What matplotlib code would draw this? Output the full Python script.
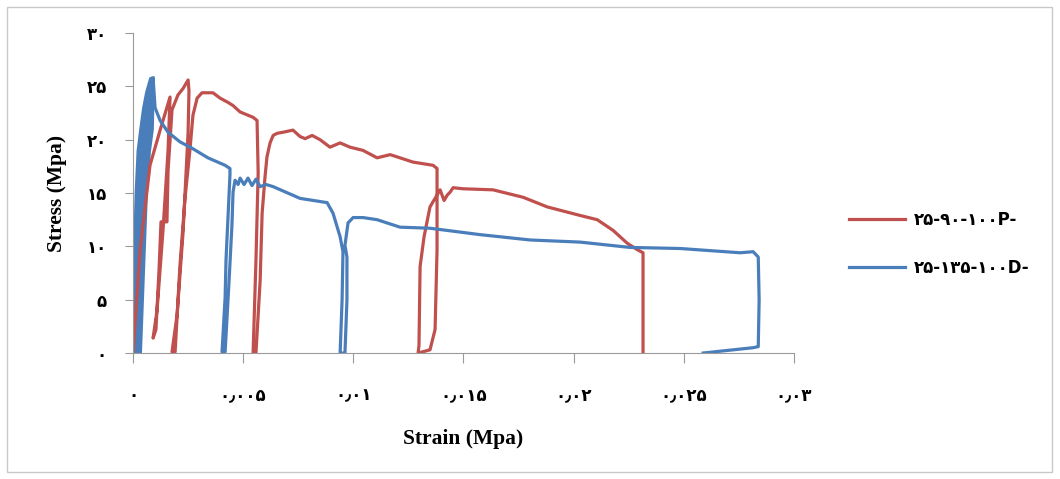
import matplotlib
matplotlib.use('Agg')
import matplotlib.pyplot as plt
from matplotlib.patches import Rectangle

# series 25-90-100P- (red): strain, stress
red_strain = [0, 0.00032, 0.00077, 0.00123, 0.00168, 0.00159, 0.00136, 0.00109, 0.00091,
              0.00104, 0.00118, 0.00127, 0.00154, 0.00159, 0.00177, 0.00204, 0.00227, 0.0025,
              0.00254, 0.0025, 0.00227, 0.002, 0.00177, 0.00191, 0.00213, 0.00236, 0.00259,
              0.00272, 0.00291, 0.00313, 0.00363, 0.00395, 0.00431, 0.00454, 0.00486, 0.00545,
              0.00563, 0.00568, 0.00558, 0.00545, 0.00558, 0.00577, 0.00586, 0.00599, 0.00608,
              0.00622, 0.00636, 0.00654, 0.00681, 0.00726, 0.00758, 0.00781, 0.00813, 0.00849,
              0.00894, 0.0094, 0.00985, 0.01044, 0.01108, 0.01167, 0.01212, 0.01271, 0.01362,
              0.0138, 0.0138, 0.01371, 0.01348, 0.01294, 0.01298, 0.01303, 0.01321, 0.01348,
              0.01371, 0.01394, 0.01412, 0.01426, 0.0144, 0.01453, 0.01498, 0.01634, 0.01771,
              0.0188, 0.02029, 0.02107, 0.02179, 0.02243, 0.02288, 0.02315, 0.02315, 0.02315]
red_stress = [0, 9.65, 17.6, 20.9, 24.0, 19.0, 11.5, 4.0, 1.4,
              2.2, 7.8, 12.3, 12.3, 17.1, 22.8, 24.2, 24.8, 25.6,
              24.6, 20.7, 11.3, 3.6, 0.1, 0.1, 8.2, 14.5, 19.2,
              22.3, 23.9, 24.4, 24.4, 23.9, 23.5, 23.2, 22.6, 22.1,
              21.8, 16.9, 8.7, 0, 0, 6.8, 13.1, 16.5, 18.4,
              19.7, 20.4, 20.6, 20.7, 20.9, 20.3, 20.1, 20.4, 20.0,
              19.3, 19.7, 19.3, 19.0, 18.3, 18.6, 18.3, 17.9, 17.6,
              17.3, 9.7, 2.2, 0.3, 0, 0.7, 8.1, 10.9, 13.7,
              14.5, 15.3, 14.3, 14.8, 15.1, 15.5, 15.4, 15.3, 14.6,
              13.7, 12.9, 12.5, 11.5, 10.3, 9.7, 9.4, 5.0, 0]

# blue: the early load cycles are so dense they read as a solid band
band_stress = [0, 5, 10, 15, 19, 21, 23, 24.5, 25.8]
band_left = [0, 0.00002, 0.00005, 0.00011, 0.0002, 0.00032, 0.00045, 0.00059, 0.00077]
band_right = [0.00032, 0.00041, 0.0005, 0.00059, 0.00073, 0.00086, 0.00088, 0.00091, 0.00091]

# series 25-135-100D- (blue) after the peak
blue_strain = [0.00091, 0.001, 0.00123, 0.00159, 0.00213, 0.00268, 0.0034, 0.00418,
               0.0044, 0.0044, 0.00422, 0.00418, 0.00404, 0.00418, 0.00436, 0.00449, 0.00454,
               0.00463, 0.00477, 0.00486, 0.00504, 0.00522, 0.0054, 0.00558, 0.00577, 0.00604,
               0.00636, 0.00758, 0.00881, 0.00908, 0.0094, 0.00953, 0.00949, 0.0094, 0.00962,
               0.00971, 0.00971, 0.00962, 0.00976, 0.00999, 0.01044, 0.01108, 0.01212, 0.01348,
               0.01575, 0.01802, 0.02029, 0.02256, 0.02483, 0.02756, 0.02815, 0.02838, 0.02842,
               0.02838, 0.02815, 0.02588]
blue_stress = [25.8, 23.0, 21.8, 20.7, 19.8, 19.2, 18.3, 17.6,
               17.3, 16.7, 8.7, 5.2, 0.1, 0.1, 6.8, 12.0, 15.1,
               16.2, 15.8, 16.4, 15.8, 16.4, 15.7, 16.3, 15.6, 15.8,
               15.6, 14.5, 14.1, 13.1, 10.9, 9.5, 5.0, 0, 0,
               5.0, 9.0, 10.1, 12.2, 12.7, 12.7, 12.5, 11.8, 11.7,
               11.1, 10.6, 10.4, 9.9, 9.8, 9.4, 9.5, 9.0, 5.0,
               0.6, 0.5, 0]

x_ticks = [0, 0.005, 0.01, 0.015, 0.02, 0.025, 0.03]
x_labels = ['۰', '۰٫۰۰۵', '۰٫۰۱', '۰٫۰۱۵', '۰٫۰۲', '۰٫۰۲۵', '۰٫۰۳']
y_ticks = [0, 5, 10, 15, 20, 25, 30]
y_labels = ['۰', '۵', '۱۰', '۱۵', '۲۰', '۲۵', '۳۰']
series_names = ['۲۵-۹۰-۱۰۰P-', '۲۵-۱۳۵-۱۰۰D-']

red = '#C0504D'
blue = '#4A7EBB'

fig = plt.figure(figsize=(10.6, 4.79), dpi=100)
fig.patches.append(Rectangle((0.007, 0.015), 0.985, 0.97, transform=fig.transFigure,
                             fill=False, edgecolor='#c8c8c8', linewidth=1))
ax = fig.add_axes([0.1255, 0.263, 0.6235, 0.668])

ax.plot(red_strain, red_stress, color=red, lw=2.3, label=series_names[0])
ax.fill_betweenx(band_stress, band_left, band_right, color=blue, lw=2, edgecolor=blue)
ax.plot(blue_strain, blue_stress, color=blue, lw=2.3, label=series_names[1])

ax.set_xlim(0, 0.03)
ax.set_ylim(0, 30)
ax.set_xticks(x_ticks)
ax.set_xticklabels(x_labels, fontweight='bold')
ax.set_yticks(y_ticks)
ax.set_yticklabels(y_labels, fontweight='bold')
for s in ['top', 'right']:
    ax.spines[s].set_visible(False)
for s in ['left', 'bottom']:
    ax.spines[s].set_color('#9a9a9a')
ax.tick_params(axis='x', direction='out', length=7, color='#9a9a9a', pad=17, labelsize=12)
ax.tick_params(axis='y', direction='out', length=6, color='#9a9a9a', pad=13, labelsize=12)

ax.set_xlabel('Strain (Mpa)', family='Liberation Serif', fontweight='bold', fontsize=15.5, labelpad=18)
ax.set_ylabel('Stress (Mpa)', family='Liberation Serif', fontweight='bold', fontsize=15.5, labelpad=14)

leg = ax.legend(loc='center left', bbox_to_anchor=(1.06, 0.34), frameon=False,
                prop={'size': 12, 'weight': 'bold'}, handlelength=3.4, handletextpad=0.5,
                labelspacing=1.8)

fig.savefig('out.png', dpi=100)
